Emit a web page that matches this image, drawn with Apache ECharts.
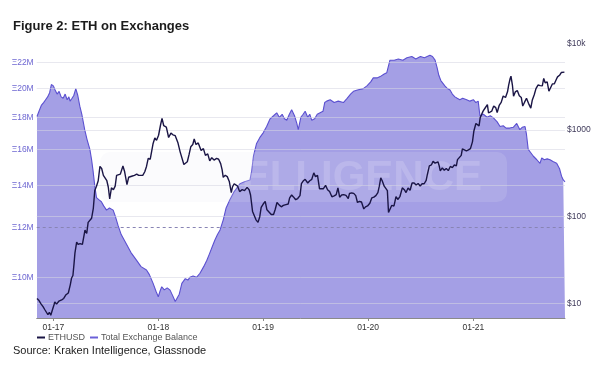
<!DOCTYPE html>
<html><head><meta charset="utf-8">
<script src="https://cdn.jsdelivr.net/npm/echarts@6/dist/echarts.min.js"></script>
<style>html,body{margin:0;padding:0;background:#fff}#c{width:600px;height:371px}</style>
</head><body><div id="c"></div>
<script>
const xTickDates = ['2017-01-01','2018-01-01','2019-01-01','2020-01-01','2021-01-01'];
const xTickLabels = ['01-17','01-18','01-19','01-20','01-21'];
const leftTicks = [10,12,14,16,18,20,22];
const leftTickLabels = ['Ξ10M','Ξ12M','Ξ14M','Ξ16M','Ξ18M','Ξ20M','Ξ22M'];
const rightTicks = [10,100,1000,10000];
const rightTickLabels = ['$10','$100','$1000','$10k'];
const referenceLevel = 12;

const ethDates = ['2016-11-05','2016-11-12','2016-11-19','2016-11-26','2016-12-03','2016-12-08','2016-12-13','2016-12-18','2016-12-23','2016-12-28',
'2017-01-03','2017-01-06','2017-01-12','2017-01-20','2017-01-30','2017-02-06','2017-02-14','2017-02-22','2017-03-01','2017-03-05','2017-03-10','2017-03-14','2017-03-17','2017-03-23','2017-03-28',
'2017-04-04','2017-04-12','2017-04-21','2017-04-27','2017-05-02','2017-05-08','2017-05-14','2017-05-20','2017-05-25','2017-05-31','2017-06-06','2017-06-12','2017-06-18','2017-06-24','2017-06-30',
'2017-07-06','2017-07-11','2017-07-16','2017-07-22','2017-07-29','2017-08-04','2017-08-09','2017-08-15','2017-08-22','2017-08-31','2017-09-06','2017-09-14','2017-09-20','2017-09-26',
'2017-10-03','2017-10-10','2017-10-18','2017-10-25','2017-10-31','2017-11-08','2017-11-15','2017-11-21','2017-11-27','2017-12-04','2017-12-09','2017-12-14','2017-12-20','2017-12-26',
'2018-01-02','2018-01-09','2018-01-14','2018-01-20','2018-01-29','2018-02-06','2018-02-14','2018-02-21','2018-03-01','2018-03-10','2018-03-18','2018-03-23','2018-03-31',
'2018-04-06','2018-04-12','2018-04-18','2018-04-24','2018-05-01','2018-05-06','2018-05-12','2018-05-20','2018-05-30','2018-06-07','2018-06-14','2018-06-22','2018-06-29',
'2018-07-06','2018-07-14','2018-07-23','2018-07-30','2018-08-06','2018-08-11','2018-08-15','2018-08-22','2018-08-29','2018-09-05','2018-09-12','2018-09-16','2018-09-22','2018-09-27',
'2018-10-04','2018-10-11','2018-10-20','2018-10-28','2018-11-06','2018-11-13','2018-11-18','2018-11-25','2018-12-01','2018-12-07','2018-12-14','2018-12-20','2018-12-25',
'2019-01-01','2019-01-08','2019-01-14','2019-01-20','2019-01-29','2019-02-06','2019-02-12','2019-02-18','2019-02-26','2019-03-05','2019-03-12','2019-03-21','2019-03-29',
'2019-04-03','2019-04-10','2019-04-17','2019-04-24','2019-05-01','2019-05-09','2019-05-14','2019-05-20','2019-05-27','2019-06-05','2019-06-12','2019-06-19','2019-06-26',
'2019-07-02','2019-07-09','2019-07-16','2019-07-22','2019-07-29','2019-08-06','2019-08-13','2019-08-20','2019-08-28','2019-09-05','2019-09-12','2019-09-18','2019-09-24',
'2019-10-01','2019-10-08','2019-10-16','2019-10-24','2019-10-28','2019-11-05','2019-11-12','2019-11-19','2019-11-25','2019-12-02','2019-12-09','2019-12-17','2019-12-23','2019-12-30',
'2020-01-07','2020-01-14','2020-01-21','2020-01-28','2020-02-04','2020-02-09','2020-02-14','2020-02-19','2020-02-26','2020-03-03','2020-03-08','2020-03-12','2020-03-17','2020-03-23','2020-03-31',
'2020-04-07','2020-04-14','2020-04-21','2020-04-29','2020-05-06','2020-05-12','2020-05-19','2020-05-26','2020-06-02','2020-06-09','2020-06-16','2020-06-23','2020-06-30',
'2020-07-07','2020-07-14','2020-07-21','2020-07-25','2020-08-01','2020-08-08','2020-08-14','2020-08-21','2020-08-31','2020-09-04','2020-09-08','2020-09-15','2020-09-22','2020-09-29',
'2020-10-06','2020-10-13','2020-10-20','2020-10-27','2020-11-03','2020-11-07','2020-11-13','2020-11-20','2020-11-24','2020-12-01','2020-12-08','2020-12-15','2020-12-22','2020-12-29',
'2021-01-03','2021-01-10','2021-01-14','2021-01-21','2021-01-25','2021-02-04','2021-02-10','2021-02-19','2021-02-23','2021-03-01','2021-03-06','2021-03-13','2021-03-20','2021-03-25',
'2021-04-01','2021-04-08','2021-04-15','2021-04-23','2021-04-30','2021-05-04','2021-05-09','2021-05-12','2021-05-17','2021-05-21','2021-05-27','2021-06-03','2021-06-10','2021-06-17','2021-06-22','2021-06-28',
'2021-07-05','2021-07-12','2021-07-20','2021-07-25','2021-08-01','2021-08-07','2021-08-14','2021-08-22','2021-08-29','2021-09-03','2021-09-08','2021-09-15','2021-09-21','2021-09-27',
'2021-10-03','2021-10-10','2021-10-17','2021-10-21','2021-10-28','2021-11-03','2021-11-09','2021-11-14'];
const ethPrices = [11.4,10.8,9.9,9.2,8.4,8.2,7.4,7.9,7.3,8.3,
9.6,10.4,9.8,10.6,11.0,11.4,12.6,13.2,16.5,19.5,21,29,38,51,48,
49,48,70,64,86,88,96,125,200,225,260,380,360,300,290,
260,220,160,215,205,225,300,295,310,385,330,235,285,300,
295,300,310,300,305,300,330,380,470,460,470,700,810,760,
870,1150,1360,1120,1080,820,920,880,860,720,560,560,400,
385,430,520,640,680,790,680,710,580,610,510,530,440,
480,450,470,460,410,350,285,300,290,255,190,220,240,230,
225,195,205,200,218,205,178,115,112,92,86,100,128,
140,150,120,117,106,106,122,146,136,130,135,138,140,
165,178,168,157,162,175,240,258,270,245,260,270,320,
290,300,210,215,210,230,205,195,170,174,180,215,168,
178,180,176,162,185,188,186,175,146,150,148,123,130,133,
143,165,168,175,190,225,280,260,225,225,200,112,115,135,133,
170,158,172,215,205,190,214,202,245,245,232,242,226,
240,240,262,305,385,395,435,415,430,390,337,365,343,360,
340,380,368,395,385,455,465,510,605,590,575,590,610,730,
975,1190,1215,1115,1390,1650,1770,1960,1570,1570,1650,1890,1810,1590,
1920,2085,2470,2370,2760,3300,3900,4170,3300,2450,2750,2850,2480,2370,1890,2080,
2320,2030,1790,2200,2550,3000,3300,3250,3230,3930,3500,3600,2800,2950,
3400,3420,3850,4100,4280,4600,4810,4650];

const balanceDates = ['2016-11-05','2016-11-12','2016-11-20','2016-11-28','2016-12-05','2016-12-12','2016-12-19','2016-12-25',
'2017-01-01','2017-01-07','2017-01-14','2017-01-21','2017-01-28','2017-02-04','2017-02-11','2017-02-18','2017-02-24','2017-02-28','2017-03-07','2017-03-13','2017-03-20','2017-03-27',
'2017-04-03','2017-04-10','2017-04-20','2017-04-28','2017-05-08','2017-05-14','2017-05-19','2017-05-25','2017-05-31','2017-06-08','2017-06-17','2017-06-25',
'2017-07-05','2017-07-15','2017-07-28','2017-08-05','2017-08-14','2017-08-25','2017-09-12','2017-09-28','2017-10-17','2017-11-02','2017-11-21','2017-12-01','2017-12-14','2017-12-24',
'2018-01-01','2018-01-07','2018-01-13','2018-01-22','2018-02-01','2018-02-11','2018-02-20','2018-03-01','2018-03-06','2018-03-15','2018-03-24',
'2018-04-05','2018-04-14','2018-04-21','2018-05-02','2018-05-14','2018-05-26','2018-06-08','2018-06-19','2018-06-28','2018-07-08','2018-07-17','2018-07-26',
'2018-08-04','2018-08-15','2018-08-25','2018-09-07','2018-09-22','2018-10-12','2018-10-28','2018-11-16','2018-11-22','2018-11-28','2018-12-09','2018-12-20',
'2019-01-01','2019-01-13','2019-01-25','2019-02-06','2019-02-17','2019-02-26','2019-03-08','2019-03-16','2019-03-24','2019-04-02','2019-04-10','2019-04-20','2019-04-28',
'2019-05-03','2019-05-12','2019-05-20','2019-05-27','2019-06-05','2019-06-12','2019-06-19','2019-06-29','2019-07-08','2019-07-18','2019-07-28',
'2019-08-03','2019-08-10','2019-08-22','2019-09-05','2019-09-19','2019-10-07','2019-10-20','2019-11-01','2019-11-11','2019-11-25','2019-12-15','2019-12-28',
'2020-01-10','2020-01-19','2020-02-01','2020-02-12','2020-02-26','2020-03-06','2020-03-12','2020-03-17','2020-04-01','2020-04-15','2020-05-01','2020-05-15',
'2020-06-01','2020-06-15','2020-07-01','2020-07-15','2020-08-03','2020-08-12','2020-08-21','2020-08-28','2020-09-03','2020-09-10','2020-09-24',
'2020-10-03','2020-10-12','2020-10-20','2020-10-29','2020-11-06','2020-11-15','2020-11-25','2020-12-09','2020-12-20',
'2021-01-01','2021-01-10','2021-01-18','2021-01-24','2021-02-05','2021-02-18','2021-03-01','2021-03-12','2021-03-25','2021-04-04','2021-04-15','2021-04-25',
'2021-05-08','2021-05-20','2021-06-01','2021-06-12','2021-06-20','2021-06-30','2021-07-05','2021-07-11','2021-07-20','2021-07-29','2021-08-10','2021-08-21','2021-08-27',
'2021-09-05','2021-09-15','2021-09-25','2021-10-05','2021-10-18','2021-10-28','2021-11-04','2021-11-10','2021-11-16'];
const balanceValues = [18.05,18.4,18.8,19.0,19.2,19.4,19.7,20.3,
20.2,19.9,19.6,19.8,19.4,19.3,19.6,19.2,19.4,19.1,19.3,19.5,20.0,19.5,
18.75,18.2,17.2,16.6,16.0,15.4,14.8,14.0,13.4,13.3,13.2,13.0,
12.8,12.9,12.8,12.5,12.1,11.7,11.3,10.95,10.65,10.4,10.27,10.1,9.78,9.5,
9.31,9.5,9.66,9.55,9.62,9.54,9.35,9.15,9.09,9.4,9.78,
9.95,9.9,10.0,10.05,10.0,10.15,10.4,10.65,10.9,11.2,11.47,11.7,
11.9,12.35,12.9,13.3,13.7,14.1,14.2,14.3,14.8,15.6,16.35,16.7,
17.0,17.4,17.9,18.1,18.3,18.0,18.2,17.9,17.8,18.2,18.5,18.1,17.6,
17.2,18.0,18.2,18.4,18.0,18.2,17.8,17.9,18.2,18.3,18.4,
19.0,19.1,19.2,19.0,19.1,19.0,19.3,19.6,19.8,19.9,20.0,20.2,
20.5,20.8,20.8,20.9,21.1,21.2,21.3,22.2,22.2,22.3,22.2,22.4,
22.5,22.3,22.5,22.4,22.6,22.5,22.2,21.6,21.0,20.6,20.2,
20.0,19.9,19.6,19.4,19.3,19.2,19.3,19.2,19.1,
19.2,19.0,19.1,18.1,18.2,18.0,18.1,17.96,17.7,17.4,17.45,17.3,
17.3,17.35,17.6,17.2,17.35,17.4,16.9,16.0,15.8,15.6,15.4,15.2,15.5,
15.4,15.45,15.4,15.3,15.2,14.9,14.5,14.3,14.2];

const FONT = '"Liberation Sans", Arial, sans-serif';
const chart = echarts.init(document.getElementById('c'), null, {renderer: 'canvas'});
const toTime = s => echarts.number.parseDate(s).getTime();
const pick = (ticks, labels) => v => {
  for (let i = 0; i < ticks.length; i++) if (Math.abs(ticks[i] - v) / Math.abs(ticks[i]) < 1e-6) return labels[i];
  return '';
};
const xTickTimes = xTickDates.map(toTime);
const gridColor = 'rgba(214,214,226,0.55)';

chart.setOption({
  animation: false,
  backgroundColor: '#ffffff',
  title: {
    text: 'Figure 2: ETH on Exchanges', left: 13, top: 19.5, padding: 0,
    textStyle: {fontFamily: FONT, fontSize: 13, fontWeight: 'bold', color: '#1c1c1c'}
  },
  legend: {
    data: ['ETHUSD', 'Total Exchange Balance'],
    left: 37, top: 333, padding: 0, itemWidth: 8, itemHeight: 2, itemGap: 5, icon: 'rect',
    textStyle: {fontFamily: FONT, fontSize: 9, color: '#555', padding: [0, 0, 0, -2]}
  },
  graphic: [
    {type: 'rect', z: 3, silent: true, shape: {x: 100, y: 152, width: 407, height: 50, r: 10},
     style: {fill: 'rgba(228,228,240,0.16)'}},
    {type: 'text', z: 3, silent: true, x: 174, y: 178,
     style: {text: 'INTELLIGENCE', font: 'bold 42px ' + FONT, fill: 'rgba(255,255,255,0.16)', verticalAlign: 'middle'}},
    {type: 'text', z: 10, left: 13, top: 345.5,
     style: {text: 'Source: Kraken Intelligence, Glassnode', font: '11px ' + FONT, fill: '#222'}}
  ],
  grid: {left: 36.7, right: 35, top: 43.3, bottom: 53},
  xAxis: {
    type: 'value',
    min: toTime('2016-11-04'), max: toTime('2021-11-16'),
    axisLine: {lineStyle: {color: '#8a8a8a', width: 1}},
    axisTick: {show: true, length: 3, customValues: xTickTimes, lineStyle: {color: '#8a8a8a'}},
    axisLabel: {customValues: xTickTimes, formatter: pick(xTickTimes, xTickLabels),
      fontFamily: FONT, fontSize: 8.5, color: '#333', margin: 5},
    splitLine: {show: false}
  },
  yAxis: [
    {type: 'log', position: 'left', min: 8.612, max: 23.62,
     axisLine: {show: false}, axisTick: {show: false, customValues: leftTicks},
     splitLine: {show: false},
     axisLabel: {customValues: leftTicks, formatter: pick(leftTicks, leftTickLabels),
       fontFamily: FONT, fontSize: 8.5, color: '#6f68d2', margin: 3}},
    {type: 'log', position: 'right', min: 6.79, max: 10000,
     axisLine: {show: false}, axisTick: {show: false, customValues: rightTicks},
     splitLine: {show: false},
     axisLabel: {customValues: rightTicks, formatter: pick(rightTicks, rightTickLabels),
       fontFamily: FONT, fontSize: 8.5, color: '#3f3a5a', margin: 2}}
  ],
  series: [
    {
      name: 'Total Exchange Balance', type: 'line', yAxisIndex: 0, z: 2,
      data: balanceDates.map((d, i) => [toTime(d), balanceValues[i]]),
      showSymbol: false, symbol: 'none',
      color: '#6b60d8',
      lineStyle: {color: '#5b50d0', width: 1.1},
      areaStyle: {color: '#a49fe5', opacity: 1},
      markLine: {
        silent: true, symbol: 'none', z: 3, animation: false, label: {show: false},
        lineStyle: {color: gridColor, width: 1, type: 'solid'},
        data: leftTicks.map(v => v === referenceLevel
          ? {yAxis: v, lineStyle: {color: '#8884b4', type: [3, 3], width: 1}}
          : {yAxis: v})
      }
    },
    {
      name: 'ETHUSD', type: 'line', yAxisIndex: 1, z: 4,
      data: ethDates.map((d, i) => [toTime(d), ethPrices[i]]),
      showSymbol: false, symbol: 'none',
      color: '#1a1545',
      lineStyle: {color: '#1a1545', width: 1.4},
      markLine: {
        silent: true, symbol: 'none', z: 3, animation: false, label: {show: false},
        lineStyle: {color: gridColor, width: 1, type: 'solid'},
        data: rightTicks.filter(v => v < 10000).map(v => ({yAxis: v}))
      }
    }
  ]
});
</script></body></html>
